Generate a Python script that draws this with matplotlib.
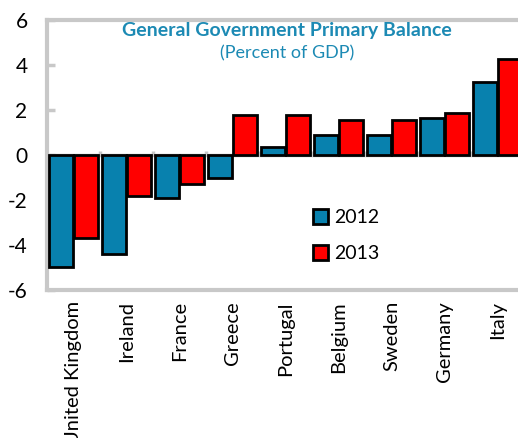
import numpy as np
import matplotlib.pyplot as plt
from matplotlib.patches import Patch

countries = ["United Kingdom", "Ireland", "France", "Greece", "Portugal",
             "Belgium", "Sweden", "Germany", "Italy"]
bal_2012 = [-5.0, -4.4, -1.9, -1.0, 0.35, 0.9, 0.9, 1.65, 3.25]
bal_2013 = [-3.7, -1.8, -1.3, 1.8, 1.8, 1.55, 1.55, 1.85, 4.25]
yticks = [-6, -4, -2, 0, 2, 4, 6]

blue = "#0881AE"
red = "#FF0000"
grey = "#C8C8C8"
title_col = "#1C8AB4"

plt.rcParams['font.family'] = ['Lato', 'DejaVu Sans']

fig = plt.figure(figsize=(5.18, 4.38), dpi=100)
ax = fig.add_axes([0.0907, 0.338, 0.921, 0.616])

x = np.arange(len(countries))
w = 0.46
ax.bar(x - w / 2 - 0.01, bal_2012, w, color=blue, edgecolor="black", linewidth=2, zorder=3)
ax.bar(x + w / 2 + 0.01, bal_2013, w, color=red, edgecolor="black", linewidth=2, zorder=3)

ax.set_xlim(-0.5, len(countries) - 0.5)
ax.set_ylim(-6, 6)

# zero line with small category separators
ax.axhline(0, color=grey, linewidth=2.5, zorder=2)
ax.vlines(x[1:] - 0.5, 0, 0.18, color=grey, linewidth=2.5, zorder=2)

for s in ax.spines.values():
    s.set_color(grey)
    s.set_linewidth(3)

ax.set_yticks(yticks)
ax.set_yticklabels([str(v) for v in yticks])
ax.tick_params(axis='y', direction='in', length=6, width=2.5, color=grey,
               labelsize=15, pad=14)
ax.set_xticks(x)
ax.set_xticklabels(countries, rotation=90, va='top', ha='center')
ax.tick_params(axis='x', length=0, labelsize=14.5, pad=8)

ax.text(0.503, 0.963, "General Government Primary Balance", transform=ax.transAxes,
        ha='center', va='center', fontsize=14, fontweight='bold', color=title_col)
ax.text(0.503, 0.877, "(Percent of GDP)", transform=ax.transAxes,
        ha='center', va='center', fontsize=13, color=title_col)

handles = [Patch(facecolor=blue, edgecolor="black", linewidth=2),
           Patch(facecolor=red, edgecolor="black", linewidth=2)]
ax.legend(handles, ["2012", "2013"], loc='upper left', bbox_to_anchor=(0.52, 0.365),
          frameon=False, fontsize=14, handlelength=0.8, handleheight=0.8,
          handletextpad=0.3, labelspacing=0.95)

fig.savefig("out.png", dpi=100)
